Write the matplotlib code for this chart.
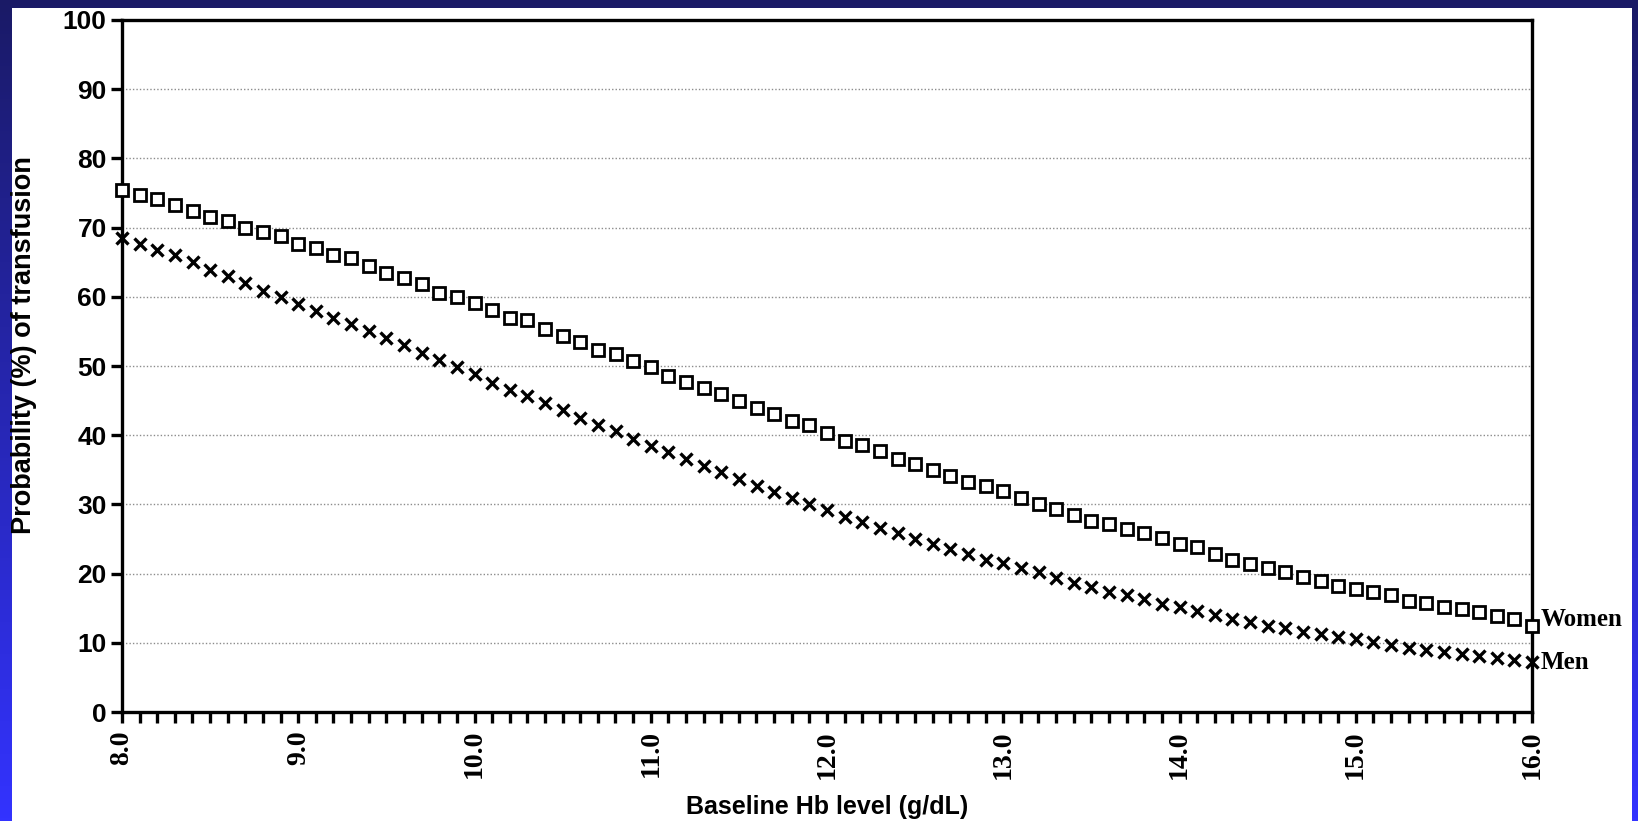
import matplotlib
matplotlib.use("Agg")
import matplotlib.pyplot as plt
import matplotlib.patches as mpatches
from matplotlib import colors
import numpy as np

# Baseline Hb level, g/dL (one point every 0.1)
hb = [round(8.0 + 0.1 * i, 1) for i in range(81)]

women = [75.4, 74.7, 74.1, 73.3, 72.4, 71.6, 71.0, 70.0, 69.4, 68.8,
         67.7, 67.0, 66.1, 65.6, 64.4, 63.5, 62.7, 61.8, 60.6, 59.9,
         59.1, 58.1, 57.0, 56.6, 55.4, 54.4, 53.5, 52.3, 51.7, 50.7,
         49.8, 48.6, 47.7, 46.8, 45.9, 44.9, 44.0, 43.0, 42.1, 41.5,
         40.3, 39.2, 38.6, 37.7, 36.5, 35.9, 35.0, 34.1, 33.2, 32.6,
         32.0, 30.9, 30.0, 29.3, 28.5, 27.6, 27.1, 26.5, 25.8, 25.2,
         24.3, 23.8, 22.8, 22.0, 21.4, 20.8, 20.2, 19.5, 18.9, 18.2,
         17.8, 17.3, 16.9, 16.1, 15.7, 15.2, 14.9, 14.5, 13.9, 13.4,
         12.5]

men = [68.5, 67.6, 66.7, 66.0, 65.0, 63.9, 63.0, 62.0, 60.9, 60.0,
       59.0, 58.0, 57.0, 56.0, 55.0, 54.0, 53.0, 51.9, 50.8, 49.9,
       48.9, 47.6, 46.6, 45.6, 44.6, 43.6, 42.5, 41.5, 40.6, 39.5,
       38.5, 37.5, 36.5, 35.5, 34.7, 33.7, 32.7, 31.8, 30.9, 30.0,
       29.2, 28.2, 27.4, 26.6, 25.8, 25.0, 24.3, 23.6, 22.8, 22.0,
       21.5, 20.8, 20.2, 19.4, 18.7, 18.0, 17.4, 16.9, 16.3, 15.6,
       15.2, 14.6, 14.0, 13.5, 13.0, 12.5, 12.1, 11.6, 11.2, 10.9,
       10.5, 10.1, 9.7, 9.3, 9.0, 8.7, 8.4, 8.1, 7.8, 7.5,
       7.2]

x_ticks = [8.0, 9.0, 10.0, 11.0, 12.0, 13.0, 14.0, 15.0, 16.0]
y_ticks = [0, 10, 20, 30, 40, 50, 60, 70, 80, 90, 100]

W, H = 1638, 821
fig = plt.figure(figsize=(W / 100, H / 100), dpi=100)

# blue slide background, darker at the top
bg = fig.add_axes([0, 0, 1, 1], zorder=-10)
cmap = colors.LinearSegmentedColormap.from_list("slide", ["#1a1a66", "#3333ff"])
bg.imshow(np.linspace(0, 1, 256).reshape(-1, 1), aspect="auto", cmap=cmap,
          extent=[0, 1, 0, 1], origin="upper")
bg.set_xlim(0, 1)
bg.set_ylim(0, 1)
bg.axis("off")
bg.add_patch(mpatches.Rectangle((12 / W, 0), (1632 - 12) / W, (H - 8) / H,
                                facecolor="white", edgecolor="none"))

ax = fig.add_axes([122 / W, 1 - 712 / H, (1532 - 122) / W, (712 - 20) / H])
ax.set_facecolor("white")

ax.plot(hb, women, linestyle="none", marker="s", markersize=8,
        markerfacecolor="white", markeredgecolor="black", markeredgewidth=2.0,
        clip_on=False, zorder=3)
ax.plot(hb, men, linestyle="none", marker="x", markersize=9,
        color="black", markeredgewidth=2.4, clip_on=False, zorder=3)

ax.set_xlim(8.0, 16.0)
ax.set_ylim(0, 100)

for v in y_ticks[1:-1]:
    ax.axhline(v, color="#8c8c8c", linestyle=(0, (1, 1.5)), linewidth=1.0, zorder=1)

for s in ax.spines.values():
    s.set_linewidth(2.4)
    s.set_color("black")

ax.set_yticks(y_ticks)
ax.set_yticklabels([str(v) for v in y_ticks], fontsize=19, fontweight="bold",
                   family=["Liberation Sans", "DejaVu Sans"])
ax.set_xticks(x_ticks)
ax.set_xticklabels(["%.1f" % v for v in x_ticks], rotation=90, fontsize=20,
                   fontweight="bold", family=["Liberation Serif", "DejaVu Serif"],
                   va="top", ha="center")
ax.set_xticks(np.arange(8.0, 16.01, 0.1), minor=True)
ax.tick_params(axis="both", which="both", direction="out", length=8, width=2.4)
ax.tick_params(axis="x", which="major", pad=5)
ax.tick_params(axis="y", which="major", pad=3)

fig.text(827 / W, 1 - 807 / H, "Baseline Hb level (g/dL)", ha="center", va="center",
         fontsize=18, fontweight="bold", family=["Liberation Sans", "DejaVu Sans"])
fig.text(24 / W, 1 - 345 / H, "Probability (%) of transfusion", ha="center",
         va="center", rotation=90, fontsize=19.5, fontweight="bold",
         family=["Liberation Sans", "DejaVu Sans"])

ax.annotate("Women", xy=(16.0, women[-1]), xytext=(6, 4), textcoords="offset points",
            ha="left", va="center", fontsize=18, fontweight="bold",
            family=["Liberation Serif", "DejaVu Serif"], annotation_clip=False)
ax.annotate("Men", xy=(16.0, men[-1]), xytext=(6, 0), textcoords="offset points",
            ha="left", va="center", fontsize=18, fontweight="bold",
            family=["Liberation Serif", "DejaVu Serif"], annotation_clip=False)

fig.savefig("out.png", dpi=100)
